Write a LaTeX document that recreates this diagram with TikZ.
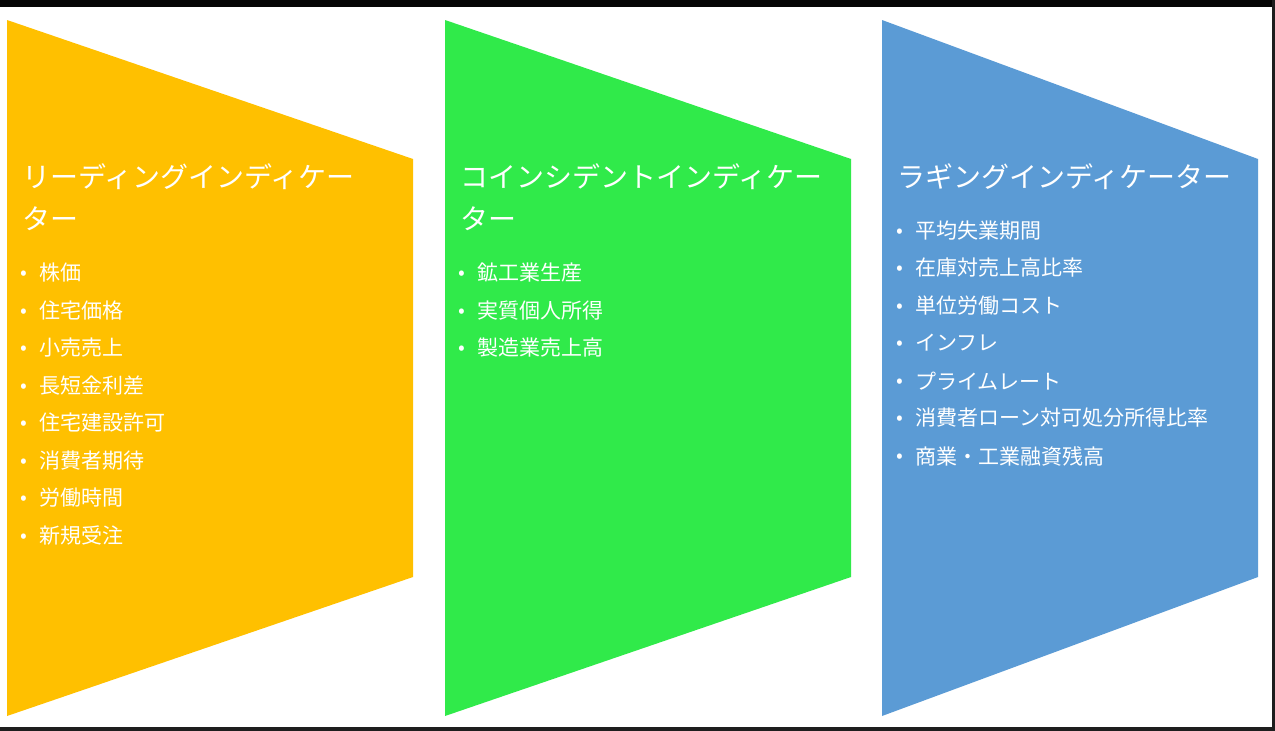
\documentclass[tikz,border=0pt]{standalone}
\usepackage{fontspec}
\newfontfamily\jp{Noto Sans CJK JP}
\definecolor{cyellow}{HTML}{FFC000}
\definecolor{cgreen}{HTML}{30EA4A}
\definecolor{cblue}{HTML}{5B9BD5}
\definecolor{topbar}{HTML}{050505}
\definecolor{edgebar}{HTML}{1E1E1E}
\tikzset{
  ttl/.style={anchor=west, inner sep=0pt, text=white, font=\jp\fontsize{28}{30}\selectfont},
  itm/.style={anchor=west, inner sep=0pt, text=white, font=\jp\fontsize{21}{24}\selectfont},
  bul/.style={anchor=base, inner sep=0pt, text=white, font=\jp\fontsize{20}{20}\selectfont, yshift=-8pt},
}
\newcommand\bl{\raisebox{1.2pt}{•}}
\begin{document}
\begin{tikzpicture}[x=1pt,y=-1pt]
\useasboundingbox (0,0) rectangle (1275,731);
\fill[white] (0,0) rectangle (1275,731);
\fill[topbar] (0,0) rectangle (1275,7);
\fill[edgebar] (1272,0) rectangle (1275,731);
\fill[edgebar] (0,727) rectangle (1275,731);
% shapes
\fill[cyellow] (7,20) -- (413,159) -- (413,577) -- (7,716) -- cycle;
\fill[cgreen] (445,20) -- (851,159) -- (851,577) -- (445,716) -- cycle;
\fill[cblue] (882,20) -- (1258,159) -- (1258,577) -- (882,716) -- cycle;
% titles
\node[ttl] (ya) at (22,177) {リーディングインディケー};
\node[ttl] (yb) at (22,219) {ター};
\node[ttl] (ga) at (460,177) {コインシデントインディケー};
\node[ttl] (gb) at (460,219) {ター};
\node[ttl] (ba) at (897,177) {ラギングインディケーター};
% yellow items
\node[itm] (y1) at (39,273) {株価};
\node[itm] (y2) at (39,311) {住宅価格};
\node[itm] (y3) at (39,348) {小売売上};
\node[itm] (y4) at (39,386) {長短金利差};
\node[itm] (y5) at (39,423) {住宅建設許可};
\node[itm] (y6) at (39,461) {消費者期待};
\node[itm] (y7) at (39,498) {労働時間};
\node[itm] (y8) at (39,536) {新規受注};
\node[bul] (y1b) at (24,273) {\bl};
\node[bul] (y2b) at (24,311) {\bl};
\node[bul] (y3b) at (24,348) {\bl};
\node[bul] (y4b) at (24,386) {\bl};
\node[bul] (y5b) at (24,423) {\bl};
\node[bul] (y6b) at (24,461) {\bl};
\node[bul] (y7b) at (24,498) {\bl};
\node[bul] (y8b) at (24,536) {\bl};
% green items
\node[itm] (g1) at (477,273) {鉱工業生産};
\node[itm] (g2) at (477,311) {実質個人所得};
\node[itm] (g3) at (477,348) {製造業売上高};
\node[bul] (g1b) at (462,273) {\bl};
\node[bul] (g2b) at (462,311) {\bl};
\node[bul] (g3b) at (462,348) {\bl};
% blue items
\node[itm] (b1) at (915,231) {平均失業期間};
\node[itm] (b2) at (915,268) {在庫対売上高比率};
\node[itm] (b3) at (915,306) {単位労働コスト};
\node[itm] (b4) at (915,343) {インフレ};
\node[itm] (b5) at (915,381) {プライムレート};
\node[itm] (b6) at (915,418) {消費者ローン対可処分所得比率};
\node[itm] (b7) at (915,456) {商業・工業融資残高};
\node[bul] (b1b) at (900,231) {\bl};
\node[bul] (b2b) at (900,268) {\bl};
\node[bul] (b3b) at (900,306) {\bl};
\node[bul] (b4b) at (900,343) {\bl};
\node[bul] (b5b) at (900,381) {\bl};
\node[bul] (b6b) at (900,418) {\bl};
\node[bul] (b7b) at (900,456) {\bl};
\end{tikzpicture}
\end{document}
